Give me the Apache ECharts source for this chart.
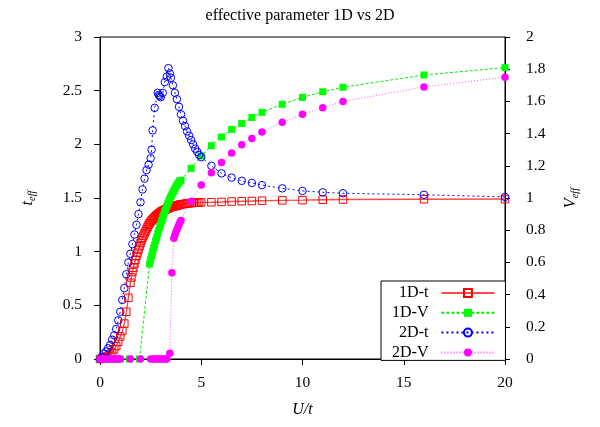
<!DOCTYPE html>
<html>
<head>
<meta charset="utf-8">
<script src="https://cdn.jsdelivr.net/npm/echarts@6/dist/echarts.min.js"></script>
<style>html,body{margin:0;padding:0;background:#fff}#c{width:600px;height:427px}</style>
</head>
<body>
<div id="c"></div>
<script>
// ---- data ----
var titleText = 'effective parameter 1D vs 2D';
var seriesNames = ['1D-t', '1D-V', '2D-t', '2D-V'];
var xTicks = [0, 5, 10, 15, 20];

var u1Dt = [0,0.1,0.2,0.3,0.4,0.5,0.6,0.7,0.8,0.9,1.0,1.1,1.2,1.3,1.4,1.5,1.55,1.6,1.65,1.7,1.75,1.8,1.85,1.9,1.95,2.0,2.05,2.1,2.15,2.2,2.25,2.3,2.35,2.4,2.45,2.5,2.55,2.6,2.65,2.7,2.75,2.8,2.85,2.9,2.95,3.0,3.05,3.1,3.15,3.2,3.25,3.3,3.35,3.4,3.45,3.5,3.55,3.6,3.65,3.7,3.75,3.8,3.85,3.9,3.95,4.0,4.1,4.2,4.3,4.4,4.5,4.6,4.7,4.8,4.9,5.0,5.5,6,6.5,7,7.5,8,9,10,11,12,16,20];
var t1D  = [0,0.005,0.01,0.02,0.03,0.04,0.06,0.09,0.12,0.16,0.21,0.26,0.33,0.44,0.57,0.71,0.76,0.81,0.85,0.89,0.925,0.96,0.99,1.02,1.05,1.08,1.105,1.13,1.15,1.17,1.19,1.21,1.23,1.25,1.265,1.28,1.29,1.30,1.31,1.32,1.33,1.34,1.348,1.355,1.362,1.37,1.375,1.38,1.385,1.39,1.395,1.40,1.404,1.408,1.412,1.415,1.418,1.42,1.423,1.425,1.428,1.43,1.433,1.435,1.438,1.44,1.443,1.446,1.449,1.451,1.453,1.455,1.456,1.457,1.458,1.459,1.46,1.463,1.467,1.47,1.472,1.475,1.478,1.48,1.484,1.486,1.488,1.49];

var u1DV = [0,0.25,0.5,0.75,1.0,1.45,1.95,2.45,2.5,2.55,2.6,2.65,2.7,2.75,2.8,2.85,2.9,2.95,3.0,3.05,3.1,3.15,3.2,3.25,3.3,3.35,3.4,3.45,3.5,3.55,3.6,3.65,3.7,3.75,3.8,3.85,3.9,3.95,4.0,4.5,5,5.5,6,6.5,7,7.5,8,9,10,11,12,16,20];
var V1D  = [0,0,0,0,0,0,0,0.59,0.615,0.64,0.665,0.69,0.71,0.735,0.755,0.78,0.80,0.82,0.84,0.86,0.88,0.895,0.915,0.93,0.95,0.965,0.98,0.995,1.01,1.02,1.035,1.045,1.06,1.07,1.08,1.09,1.10,1.105,1.11,1.184,1.261,1.325,1.379,1.426,1.463,1.50,1.532,1.582,1.625,1.66,1.688,1.764,1.81];

var u2Dt = [0,0.1,0.2,0.3,0.4,0.5,0.6,0.7,0.8,0.9,1.0,1.1,1.2,1.3,1.4,1.5,1.6,1.7,1.8,1.9,2.0,2.1,2.2,2.3,2.4,2.5,2.55,2.6,2.7,2.85,2.9,2.95,3.0,3.1,3.2,3.3,3.38,3.45,3.5,3.6,3.7,3.8,3.9,4.0,4.1,4.2,4.3,4.4,4.5,4.6,4.7,4.8,4.9,5.0,5.5,6,6.5,7,7.5,8,9,10,11,12,16,20];
var t2D  = [0,0.02,0.05,0.07,0.10,0.13,0.18,0.22,0.28,0.36,0.44,0.55,0.66,0.79,0.90,0.98,1.07,1.16,1.25,1.35,1.46,1.58,1.68,1.76,1.81,1.87,1.95,2.13,2.34,2.48,2.46,2.45,2.44,2.48,2.58,2.63,2.71,2.66,2.62,2.55,2.48,2.42,2.35,2.28,2.22,2.17,2.12,2.08,2.04,2.00,1.96,1.93,1.90,1.88,1.80,1.73,1.69,1.66,1.64,1.62,1.59,1.566,1.553,1.544,1.53,1.51];

var u2DV = [0,0.1,0.2,0.3,0.4,0.5,0.6,0.7,0.8,0.9,1.0,1.5,2.0,2.5,2.6,2.7,2.8,2.9,3.0,3.1,3.2,3.3,3.45,3.55,3.65,3.7,3.75,3.8,3.85,3.9,3.95,4.0,4.5,5,5.5,6,6.5,7,7.5,8,9,10,11,12,16,20];
var V2D  = [0,0,0,0,0,0,0,0,0,0,0,0,0,0,0,0,0,0,0,0,0,0,0.035,0.536,0.75,0.77,0.79,0.805,0.82,0.835,0.85,0.86,0.98,1.08,1.157,1.22,1.28,1.33,1.37,1.41,1.47,1.52,1.56,1.60,1.69,1.75];

function zip(a, b) { return a.map(function (v, i) { return [v, b[i]]; }); }

var serif = 'Liberation Serif';
var fs = 15.5;
function axisName() {
  return {
    color: '#000',
    rich: {
      i: { fontFamily: serif, fontSize: 16, fontStyle: 'italic', verticalAlign: 'top', color: '#000' },
      s: { fontFamily: serif, fontSize: 10.5, fontStyle: 'italic', verticalAlign: 'top', padding: [7, 0, 0, 0], color: '#000' }
    }
  };
}
var chart = echarts.init(document.getElementById('c'));
chart.setOption({
  animation: false,
  backgroundColor: '#fff',
  textStyle: { fontFamily: serif },
  title: {
    text: titleText, left: 'center', top: 3,
    textStyle: { fontFamily: serif, fontSize: 16, fontWeight: 'normal', color: '#000' }
  },
  grid: { left: 100, right: 95, top: 37, bottom: 68, show: true, borderColor: '#000', borderWidth: 1 },
  legend: {
    orient: 'vertical', left: 381, top: 281, align: 'right',
    data: seriesNames,
    itemWidth: 53, itemHeight: 10, itemGap: 3.8,
    padding: [4, 10, 0, 11],
    borderColor: '#000', borderWidth: 1, backgroundColor: '#fff',
    formatter: function (n) { return '{a|' + n + '}'; },
    textStyle: {
      fontFamily: serif, fontSize: 16, color: '#000',
      rich: { a: { align: 'right', fontFamily: serif, fontSize: 16, padding: [0, 8, 0, 0] } }
    }
  },
  xAxis: {
    type: 'value', min: 0, max: 20, interval: 5,
    name: 'U/t', nameLocation: 'middle', nameGap: 43,
    nameTextStyle: { fontFamily: serif, fontSize: 16, fontStyle: 'italic', color: '#000' },
    axisLine: { lineStyle: { color: '#000' } },
    axisTick: { inside: false, length: 6, lineStyle: { color: '#000' } },
    axisLabel: { margin: 16, fontFamily: serif, fontSize: fs, color: '#000' },
    splitLine: { show: false }
  },
  yAxis: [{
    type: 'value', min: 0, max: 3, interval: 0.5, position: 'left',
    name: '{i|t}{s|eff}', nameLocation: 'middle', nameGap: 62, nameRotate: 90,
    nameTextStyle: axisName(),
    axisLine: { show: true, lineStyle: { color: '#000' } },
    axisTick: { show: true, inside: false, length: 6, lineStyle: { color: '#000' } },
    axisLabel: { margin: 18, fontFamily: serif, fontSize: fs, color: '#000' },
    splitLine: { show: false }
  }, {
    type: 'value', min: 0, max: 2, interval: 0.2, position: 'right',
    name: '{i|V}{s|eff}', nameLocation: 'middle', nameGap: 58, nameRotate: 90,
    nameTextStyle: axisName(),
    axisLine: { show: true, lineStyle: { color: '#000' } },
    axisTick: { show: true, inside: false, length: 5, lineStyle: { color: '#000' } },
    axisLabel: { margin: 21, fontFamily: serif, fontSize: fs, color: '#000' },
    splitLine: { show: false }
  }],
  series: [{
    name: seriesNames[0], type: 'line', yAxisIndex: 0, data: zip(u1Dt, t1D),
    symbol: 'rect', symbolSize: 7.5, showAllSymbol: true,
    lineStyle: { color: '#ff4a4a', width: 1.4, type: 'solid' },
    itemStyle: { color: 'rgba(0,0,0,0)', borderColor: '#ff0000', borderWidth: 1 }
  }, {
    name: seriesNames[1], type: 'line', yAxisIndex: 1, data: zip(u1DV, V1D),
    symbol: 'rect', symbolSize: 7, showAllSymbol: true,
    lineStyle: { color: '#00ee00', width: 1, type: [3, 2] },
    itemStyle: { color: '#00ff00', borderWidth: 0 }
  }, {
    name: seriesNames[2], type: 'line', yAxisIndex: 0, data: zip(u2Dt, t2D),
    symbol: 'circle', symbolSize: 7.5, showAllSymbol: true,
    lineStyle: { color: '#0000ff', width: 1, type: [2, 3] },
    itemStyle: { color: 'rgba(0,0,0,0)', borderColor: '#0000ff', borderWidth: 1 }
  }, {
    name: seriesNames[3], type: 'line', yAxisIndex: 1, data: zip(u2DV, V2D),
    symbol: 'circle', symbolSize: 7.5, showAllSymbol: true,
    lineStyle: { color: '#ff55ff', width: 1, type: [1, 2] },
    itemStyle: { color: '#ff00ff', borderWidth: 0 }
  }]
});
</script>
</body>
</html>
